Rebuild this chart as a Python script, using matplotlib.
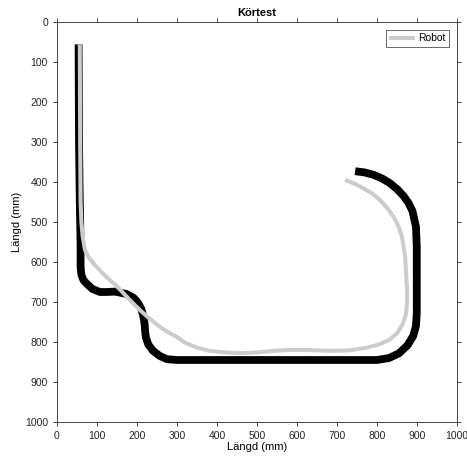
import matplotlib
matplotlib.use("Agg")
import matplotlib.pyplot as plt

plt.rcParams['font.family'] = ['Liberation Sans', 'DejaVu Sans']

# Track (black) path, mm
track_x = [54, 55, 57, 59, 59, 61, 66, 74, 88, 107, 125, 145, 174, 192, 203,
           211, 216, 219, 220, 222, 228, 240, 257, 275, 300, 450, 600, 760, 800,
           830, 855, 876, 890, 897, 899, 899, 899, 897, 888, 878, 866, 850,
           832, 812, 791, 768, 745]
track_y = [56, 300, 450, 560, 612, 632, 645, 654, 667, 675, 675, 674, 680, 690, 703,
           718, 737, 755, 770, 788, 806, 822, 835, 843, 845, 845, 845, 845, 845,
           840, 828, 808, 785, 760, 728, 600, 562, 512, 472, 452, 435, 418,
           403, 391, 382, 376, 373]

# Robot (gray) path, mm
robot_x = [57, 58, 59, 61, 64, 70, 79, 91, 110, 132, 150, 166, 186, 207, 232,
           257, 280, 299, 320, 350, 380, 420, 460, 500, 541, 580, 624, 680, 730,
           770, 805, 830, 850, 864, 872, 875, 875, 873, 870, 862, 853, 841,
           825, 807, 788, 766, 743, 720]
robot_y = [56, 300, 450, 500, 535, 570, 588, 603, 624, 645, 661, 678, 699, 720, 742,
           762, 777, 787, 802, 814, 822, 826, 828, 826, 822, 820, 820, 822, 821,
           815, 806, 795, 778, 755, 730, 700, 670, 640, 587, 537, 510, 487,
           465, 445, 429, 416, 404, 395]

fig = plt.figure(figsize=(4.67, 4.59), dpi=100)
ax = fig.add_axes([0.122, 0.0806, 0.857, 0.8715])

ax.plot(track_x, track_y, color='black', linewidth=5.6, solid_capstyle='butt',
        solid_joinstyle='round')
ax.plot(robot_x, robot_y, color='#cccccc', linewidth=2.9, solid_capstyle='butt',
        solid_joinstyle='round', label='Robot')

ax.set_xlim(0, 1000)
ax.set_ylim(1000, 0)
ax.set_xticks(range(0, 1001, 100))
ax.set_yticks(range(0, 1001, 100))

axis_col = '#262626'
for s in ax.spines.values():
    s.set_color(axis_col)
    s.set_linewidth(0.6)
ax.tick_params(direction='out', length=3, width=0.6, colors=axis_col,
               labelsize=7.5, top=True, right=True, labeltop=False, labelright=False)

ax.set_title('Körtest', fontsize=8, fontweight='bold', pad=4)
ax.set_xlabel('Längd (mm)', fontsize=8, labelpad=1)
ax.set_ylabel('Längd (mm)', fontsize=8, labelpad=2)

leg = ax.legend(loc='upper right', fontsize=7.5, frameon=True, fancybox=False,
                handlelength=2.5, borderpad=0.3, handletextpad=0.3,
                borderaxespad=0.8)
leg.get_frame().set_edgecolor(axis_col)
leg.get_frame().set_linewidth(0.6)

fig.savefig('out.png', dpi=100)
